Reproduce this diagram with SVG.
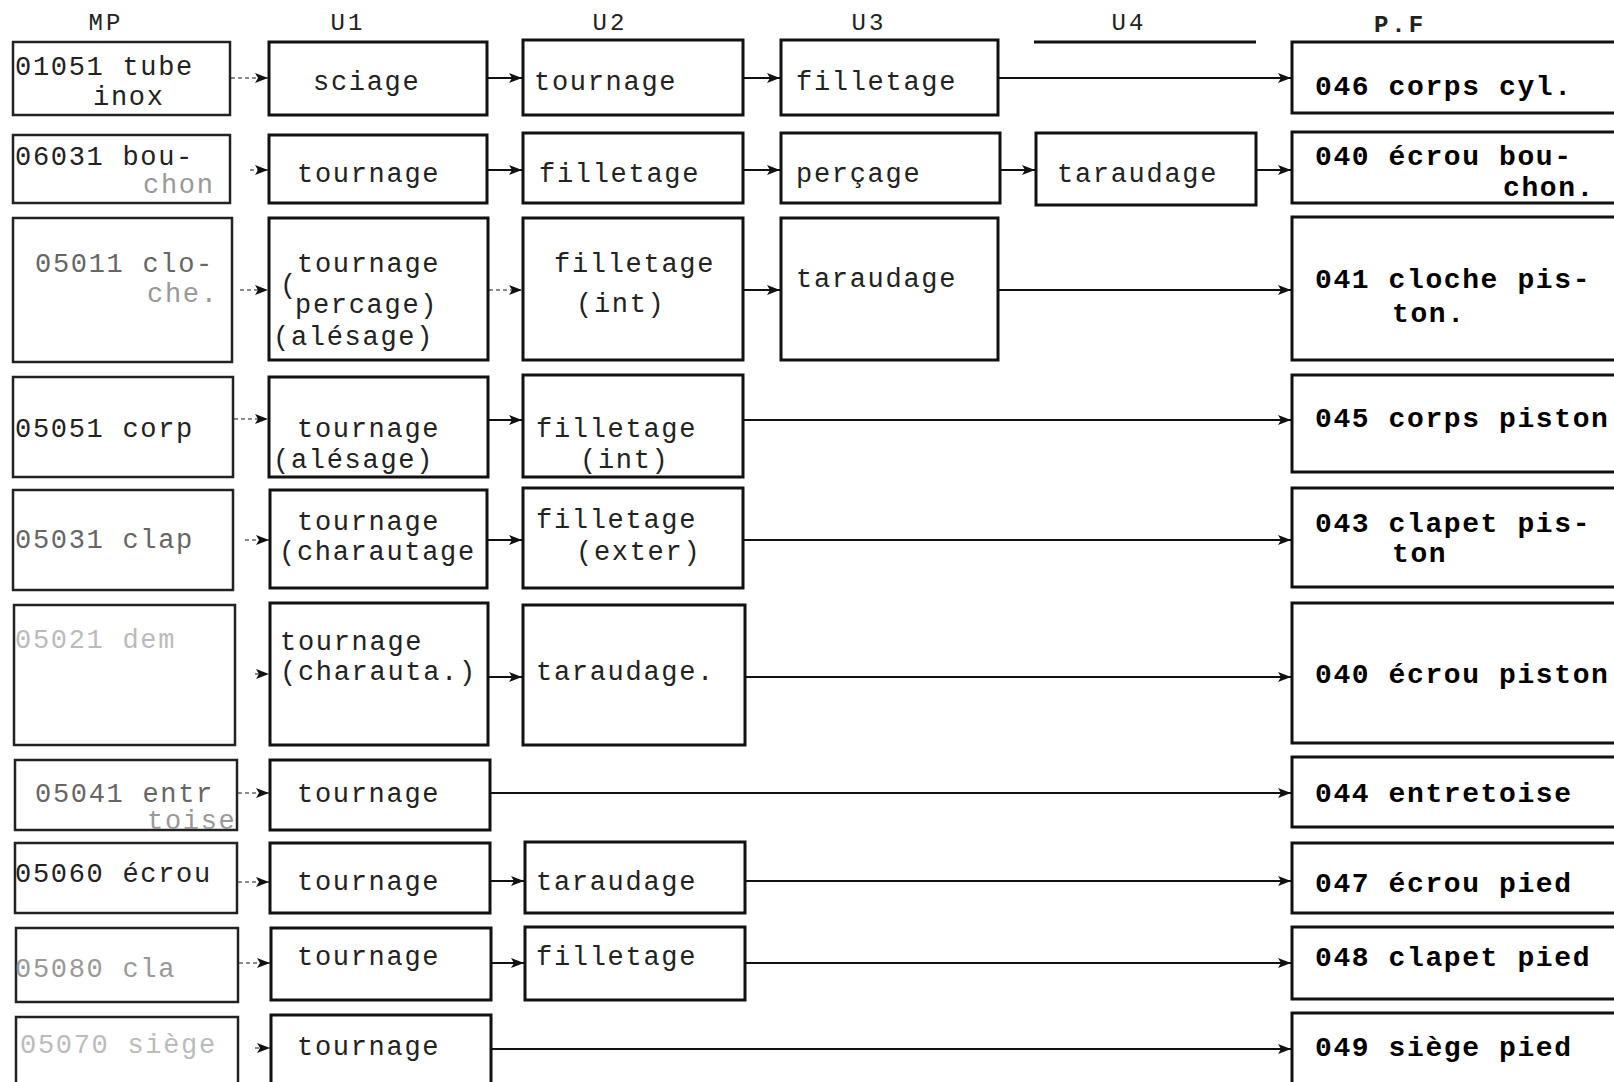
<svg xmlns="http://www.w3.org/2000/svg" width="1614" height="1082" viewBox="0 0 1614 1082">
<style>
.bg{fill:#fff}
.box{fill:#fff;stroke:#111;stroke-width:3}
.mpb{fill:#fff;stroke:#222;stroke-width:2.5}
.t{font-family:"Liberation Mono","DejaVu Sans Mono",monospace;font-size:27px;letter-spacing:1.7px;fill:#222}
.pf{font-family:"Liberation Mono","DejaVu Sans Mono",monospace;font-size:28px;letter-spacing:1.6px;font-weight:bold;fill:#000}
.hd{font-family:"Liberation Mono","DejaVu Sans Mono",monospace;font-size:24px;letter-spacing:3px;fill:#222;text-anchor:middle}
.hdb{font-weight:bold}
.f1{fill:#666}
.f2{fill:#999}
.f3{fill:#bbb}
.c{stroke:#111;stroke-width:2;fill:none;marker-end:url(#ah)}
.cd{stroke:#666;stroke-width:1.5;fill:none;stroke-dasharray:4 3;marker-end:url(#ah)}
</style>
<defs>
<marker id="ah" markerUnits="userSpaceOnUse" markerWidth="13" markerHeight="12" refX="13" refY="6" orient="auto">
<path d="M0,1 L13,6 L0,11 L3,6 z" fill="#111"/>
</marker>
</defs>
<rect class="bg" x="0" y="0" width="1614" height="1082"/>

<g id="headers">
<text class="hd" x="106" y="30">MP</text>
<text class="hd" x="348" y="30">U1</text>
<text class="hd" x="610" y="30">U2</text>
<text class="hd" x="869" y="30">U3</text>
<text class="hd" x="1129" y="30">U4</text>
<line x1="1034" y1="42" x2="1256" y2="42" stroke="#111" stroke-width="3"/>
<text class="hd hdb" x="1400" y="32">P.F</text>
</g>

<g id="connectors">
<line class="cd" x1="231" y1="78" x2="268" y2="78"/>
<line class="c" x1="488" y1="78" x2="522" y2="78"/>
<line class="c" x1="744" y1="78" x2="780" y2="78"/>
<line class="c" x1="999" y1="78" x2="1291" y2="78"/>
<line class="cd" x1="250" y1="170" x2="268" y2="170"/>
<line class="c" x1="488" y1="170" x2="522" y2="170"/>
<line class="c" x1="744" y1="170" x2="780" y2="170"/>
<line class="c" x1="1001" y1="170" x2="1035" y2="170"/>
<line class="c" x1="1257" y1="170" x2="1291" y2="170"/>
<line class="cd" x1="240" y1="290" x2="268" y2="290"/>
<line class="cd" x1="489" y1="290" x2="522" y2="290"/>
<line class="c" x1="744" y1="290" x2="780" y2="290"/>
<line class="c" x1="999" y1="290" x2="1291" y2="290"/>
<line class="cd" x1="234" y1="419" x2="268" y2="419"/>
<line class="c" x1="489" y1="420" x2="522" y2="420"/>
<line class="c" x1="744" y1="420" x2="1291" y2="420"/>
<line class="cd" x1="245" y1="540" x2="269" y2="540"/>
<line class="c" x1="488" y1="540" x2="522" y2="540"/>
<line class="c" x1="744" y1="540" x2="1291" y2="540"/>
<line class="cd" x1="255" y1="674" x2="269" y2="674"/>
<line class="c" x1="489" y1="677" x2="522" y2="677"/>
<line class="c" x1="746" y1="677" x2="1291" y2="677"/>
<line class="cd" x1="238" y1="793" x2="269" y2="793"/>
<line class="c" x1="491" y1="793" x2="1291" y2="793"/>
<line class="cd" x1="238" y1="882" x2="269" y2="882"/>
<line class="c" x1="491" y1="881" x2="524" y2="881"/>
<line class="c" x1="746" y1="881" x2="1291" y2="881"/>
<line class="cd" x1="239" y1="963" x2="270" y2="963"/>
<line class="c" x1="492" y1="963" x2="524" y2="963"/>
<line class="c" x1="746" y1="963" x2="1291" y2="963"/>
<line class="cd" x1="255" y1="1048" x2="270" y2="1048"/>
<line class="c" x1="492" y1="1049" x2="1291" y2="1049"/>
</g>

<g id="mp1"><rect class="mpb" x="13" y="42" width="217" height="73"/><text class="t" x="15" y="75">01051 tube</text><text class="t" x="93" y="105">inox</text></g>
<g id="mp2"><rect class="mpb" x="13" y="135" width="217" height="68"/><text class="t" x="15" y="165">06031 bou-</text><text class="t f2" x="143" y="193">chon</text></g>
<g id="mp3"><rect class="mpb" x="13" y="218" width="219" height="144"/><text class="t f1" x="35" y="272">05011 clo-</text><text class="t f2" x="147" y="302">che.</text></g>
<g id="mp4"><rect class="mpb" x="13" y="377" width="220" height="100"/><text class="t" x="15" y="437">05051 corp</text></g>
<g id="mp5"><rect class="mpb" x="13" y="490" width="220" height="100"/><text class="t f1" x="15" y="548">05031 clap</text></g>
<g id="mp6"><rect class="mpb" x="14" y="605" width="221" height="140"/><text class="t f3" x="15" y="648">05021 dem</text></g>
<g id="mp7"><rect class="mpb" x="15" y="760" width="222" height="70"/><text class="t f1" x="35" y="802">05041 entr</text><text class="t f2" x="147" y="829">toise</text></g>
<g id="mp8"><rect class="mpb" x="15" y="843" width="222" height="70"/><text class="t" x="15" y="882">05060 écrou</text></g>
<g id="mp9"><rect class="mpb" x="16" y="928" width="222" height="74"/><text class="t f2" x="15" y="977">05080 cla</text></g>
<g id="mp10"><rect class="mpb" x="16" y="1017" width="222" height="90"/><text class="t f3" x="20" y="1053">05070 siège</text></g>

<g id="u1r1"><rect class="box" x="269" y="42" width="218" height="73"/><text class="t" x="313" y="90">sciage</text></g>
<g id="u1r2"><rect class="box" x="269" y="135" width="218" height="68"/><text class="t" x="297" y="182">tournage</text></g>
<g id="u1r3"><rect class="box" x="269" y="218" width="219" height="142"/><text class="t" x="297" y="272">tournage</text><text class="t" x="280" y="293">(</text><text class="t" x="295" y="313">percage)</text><text class="t" x="273" y="345">(alésage)</text></g>
<g id="u1r4"><rect class="box" x="269" y="377" width="219" height="100"/><text class="t" x="297" y="437">tournage</text><text class="t" x="273" y="468">(alésage)</text></g>
<g id="u1r5"><rect class="box" x="270" y="490" width="217" height="98"/><text class="t" x="297" y="530">tournage</text><text class="t" x="279" y="560">(charautage</text></g>
<g id="u1r6"><rect class="box" x="270" y="603" width="218" height="142"/><text class="t" x="280" y="650">tournage</text><text class="t" x="280" y="680">(charauta.)</text></g>
<g id="u1r7"><rect class="box" x="270" y="760" width="220" height="70"/><text class="t" x="297" y="802">tournage</text></g>
<g id="u1r8"><rect class="box" x="270" y="843" width="220" height="70"/><text class="t" x="297" y="890">tournage</text></g>
<g id="u1r9"><rect class="box" x="271" y="928" width="220" height="72"/><text class="t" x="297" y="965">tournage</text></g>
<g id="u1r10"><rect class="box" x="271" y="1015" width="220" height="90"/><text class="t" x="297" y="1055">tournage</text></g>

<g id="u2r1"><rect class="box" x="523" y="40" width="220" height="75"/><text class="t" x="534" y="90">tournage</text></g>
<g id="u2r2"><rect class="box" x="523" y="133" width="220" height="70"/><text class="t" x="539" y="182">filletage</text></g>
<g id="u2r3"><rect class="box" x="523" y="218" width="220" height="142"/><text class="t" x="554" y="272">filletage</text><text class="t" x="576" y="312">(int)</text></g>
<g id="u2r4"><rect class="box" x="523" y="375" width="220" height="102"/><text class="t" x="536" y="437">filletage</text><text class="t" x="580" y="468">(int)</text></g>
<g id="u2r5"><rect class="box" x="523" y="488" width="220" height="100"/><text class="t" x="536" y="528">filletage</text><text class="t" x="576" y="560">(exter)</text></g>
<g id="u2r6"><rect class="box" x="523" y="605" width="222" height="140"/><text class="t" x="536" y="680">taraudage.</text></g>
<g id="u2r8"><rect class="box" x="525" y="842" width="220" height="71"/><text class="t" x="536" y="890">taraudage</text></g>
<g id="u2r9"><rect class="box" x="525" y="927" width="220" height="73"/><text class="t" x="536" y="965">filletage</text></g>

<g id="u3r1"><rect class="box" x="781" y="40" width="217" height="75"/><text class="t" x="796" y="90">filletage</text></g>
<g id="u3r2"><rect class="box" x="781" y="133" width="219" height="70"/><text class="t" x="796" y="182">perçage</text></g>
<g id="u3r3"><rect class="box" x="781" y="218" width="217" height="142"/><text class="t" x="796" y="287">taraudage</text></g>

<g id="u4r2"><rect class="box" x="1036" y="133" width="220" height="72"/><text class="t" x="1057" y="182">taraudage</text></g>

<g id="pf1"><rect class="box" x="1292" y="42" width="340" height="71"/><text class="pf" x="1315" y="95">046 corps cyl.</text></g>
<g id="pf2"><rect class="box" x="1292" y="132" width="340" height="71"/><text class="pf" x="1315" y="165">040 écrou bou-</text><text class="pf" x="1503" y="196">chon.</text></g>
<g id="pf3"><rect class="box" x="1292" y="217" width="340" height="143"/><text class="pf" x="1315" y="288">041 cloche pis-</text><text class="pf" x="1392" y="322">ton.</text></g>
<g id="pf4"><rect class="box" x="1292" y="375" width="340" height="97"/><text class="pf" x="1315" y="427">045 corps piston</text></g>
<g id="pf5"><rect class="box" x="1292" y="488" width="340" height="99"/><text class="pf" x="1315" y="532">043 clapet pis-</text><text class="pf" x="1392" y="562">ton</text></g>
<g id="pf6"><rect class="box" x="1292" y="603" width="340" height="140"/><text class="pf" x="1315" y="683">040 écrou piston</text></g>
<g id="pf7"><rect class="box" x="1292" y="757" width="340" height="70"/><text class="pf" x="1315" y="802">044 entretoise</text></g>
<g id="pf8"><rect class="box" x="1292" y="843" width="340" height="70"/><text class="pf" x="1315" y="892">047 écrou pied</text></g>
<g id="pf9"><rect class="box" x="1292" y="927" width="340" height="72"/><text class="pf" x="1315" y="966">048 clapet pied</text></g>
<g id="pf10"><rect class="box" x="1292" y="1013" width="340" height="95"/><text class="pf" x="1315" y="1056">049 siège pied</text></g>
</svg>
